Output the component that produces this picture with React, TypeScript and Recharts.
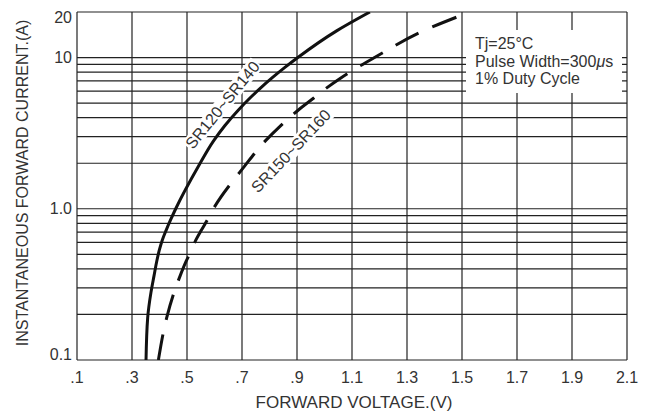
import { CartesianGrid, Line, LineChart, XAxis, YAxis } from 'recharts';

// forward current (A) at the points
const currentA = [0.1, 0.19, 0.28, 0.36, 0.45, 0.53, 0.62, 0.72, 0.85, 1, 1.9, 2.8, 3.55, 4.5, 5.4, 6.3, 7.3, 8.6, 10, 15, 20];
// forward voltage (V) for each curve at those currents
const sr120Voltage = [
  0.351, 0.357, 0.369, 0.38, 0.39, 0.399, 0.41, 0.424, 0.441, 0.459, 0.541, 0.596, 0.638, 0.687, 0.729, 0.768,
  0.808, 0.856, 0.903, 1.044, 1.165,
];
const sr150Voltage = [
  0.396, 0.426, 0.453, 0.475, 0.497, 0.516, 0.532, 0.552, 0.575, 0.596, 0.708, 0.784, 0.841, 0.905, 0.961, 1.008,
  1.058, 1.12, 1.182, 1.359, 1.529,
];

const xTicks = [0.1, 0.3, 0.5, 0.7, 0.9, 1.1, 1.3, 1.5, 1.7, 1.9, 2.1];
const xTickLabels = ['.1', '.3', '.5', '.7', '.9', '1.1', '1.3', '1.5', '1.7', '1.9', '2.1'];

const yTicks = [0.1, 0.2, 0.3, 0.4, 0.5, 0.6, 0.7, 0.8, 0.9, 1, 2, 3, 4, 5, 6, 7, 8, 9, 10, 20];
const yLabelValues = [0.1, 1, 10, 20];
const yLabelTexts = ['0.1', '1.0', '10', '20'];

const notes = ['Tj=25°C', 'Pulse Width=300', '1% Duty Cycle'];

const sr120 = currentA.map((i, k) => ({ v: sr120Voltage[k], i }));
const sr150 = currentA.map((i, k) => ({ v: sr150Voltage[k], i }));

const FONT = '"Liberation Sans", Arial, sans-serif';
const INK = '#333';
const GRID = '#222';

const findLabel = (vals: number[], texts: string[], v: number) => {
  const k = vals.findIndex((t) => Math.abs(t - v) < 1e-6);
  return k >= 0 ? texts[k] : '';
};

// end labels sit a little inside the frame, as in the datasheet
function YTick(props: any) {
  const { x, y, payload } = props;
  const label = findLabel(yLabelValues, yLabelTexts, payload.value);
  if (!label) return <g />;
  const nudge = payload.value >= 20 ? 5 : payload.value <= 0.1 ? -6 : 0;
  return (
    <text x={x} y={y + nudge} dy="0.355em" textAnchor="end" fontSize={16} fill={INK} fontFamily={FONT}>
      {label}
    </text>
  );
}

function CurveLabel({ x, y, angle, text }: { x: number; y: number; angle: number; text: string }) {
  const w = text.length * 9.6 + 4;
  return (
    <g transform={`translate(${x},${y}) rotate(${angle})`}>
      <rect x={-w / 2} y={-8} width={w} height={16} fill="#fff" />
      <text textAnchor="middle" y={5.5} fontSize={16} fill={INK} fontFamily={FONT}>
        {text}
      </text>
    </g>
  );
}

export default function App() {
  return (
    <div style={{ position: 'absolute', left: 0, top: 0, width: 656, height: 415, background: '#fff' }}>
      <LineChart
        layout="vertical"
        width={656}
        height={415}
        margin={{ top: 12, right: 29, bottom: 25, left: 17 }}
      >
        <CartesianGrid stroke={GRID} strokeWidth={1.2} />
        <XAxis
          type="number"
          domain={[0.1, 2.1]}
          ticks={xTicks}
          interval={0}
          tickFormatter={(v) => findLabel(xTicks, xTickLabels, v)}
          axisLine={false}
          tickLine={false}
          tickMargin={6}
          height={30}
          tick={{ fill: INK, fontSize: 16, fontFamily: FONT }}
          allowDataOverflow
        />
        <YAxis
          dataKey="i"
          type="number"
          scale="log"
          reversed
          domain={[0.1, 20]}
          ticks={yTicks}
          interval={0}
          tickFormatter={(v) => findLabel(yLabelValues, yLabelTexts, v)}
          axisLine={false}
          tickLine={false}
          tickSize={3}
          tickMargin={2}
          width={60}
          tick={<YTick />}
          allowDataOverflow
        />
        <Line
          data={sr120}
          dataKey="v"
          type="monotone"
          stroke="#111"
          strokeWidth={3}
          dot={false}
          activeDot={false}
          isAnimationActive={false}
        />
        <Line
          data={sr150}
          dataKey="v"
          type="monotone"
          stroke="#111"
          strokeWidth={3}
          strokeDasharray="26 15"
          dot={false}
          activeDot={false}
          isAnimationActive={false}
        />
      </LineChart>
      <svg
        width={656}
        height={415}
        style={{ position: 'absolute', left: 0, top: 0, pointerEvents: 'none' }}
      >
        <text
          transform="translate(28,183) rotate(-90)"
          textAnchor="middle"
          fontSize={16}
          fill={INK}
          fontFamily={FONT}
        >
          INSTANTANEOUS FORWARD CURRENT.(A)
        </text>
        <text x={354} y={408} textAnchor="middle" fontSize={17} fill={INK} fontFamily={FONT}>
          FORWARD VOLTAGE.(V)
        </text>
        <CurveLabel x={222.5} y={105} angle={-51} text="SR120~SR140" />
        <CurveLabel x={291} y={151} angle={-46.5} text="SR150~SR160" />
        <rect x={466} y={30} width={156} height={63} fill="#fff" />
        <g fontSize={16} fill={INK} fontFamily={FONT}>
          <text x={475} y={49}>{notes[0]}</text>
          <text x={475} y={66.5}>
            {notes[1]}
            <tspan fontStyle="italic">μ</tspan>s
          </text>
          <text x={475} y={84}>{notes[2]}</text>
        </g>
      </svg>
    </div>
  );
}
